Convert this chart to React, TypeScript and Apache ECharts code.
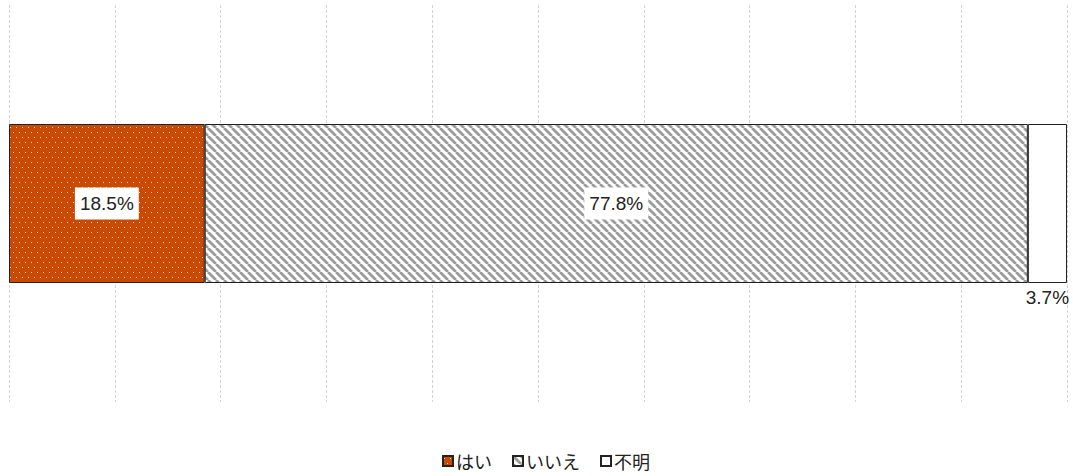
import React, { useEffect, useRef } from "react";
import * as echarts from "echarts";

const categories = ["回答"];
const seriesNames = ["はい", "いいえ", "不明"];
const yesValues = [18.5];
const noValues = [77.8];
const unknownValues = [3.7];
const axisTicks = [0, 10, 20, 30, 40, 50, 60, 70, 80, 90, 100];

function dotPattern(): string {
  const c = document.createElement("canvas");
  c.width = 6;
  c.height = 10;
  const ctx = c.getContext("2d")!;
  ctx.fillStyle = "#C84A04";
  ctx.fillRect(0, 0, 6, 10);
  ctx.fillStyle = "rgba(255,230,210,0.95)";
  ctx.fillRect(1, 2, 1, 1);
  ctx.fillRect(4, 7, 1, 1);
  return c.toDataURL();
}

function hatchPattern(): string {
  const s = 8;
  const c = document.createElement("canvas");
  c.width = s;
  c.height = s;
  const ctx = c.getContext("2d")!;
  ctx.fillStyle = "#ffffff";
  ctx.fillRect(0, 0, s, s);
  ctx.strokeStyle = "#9c9c9c";
  ctx.lineWidth = 2.8;
  for (const o of [-s, 0, s]) {
    ctx.beginPath();
    ctx.moveTo(o, 0);
    ctx.lineTo(o + s, s);
    ctx.stroke();
  }
  return c.toDataURL();
}

export default function App() {
  const ref = useRef<HTMLDivElement>(null);
  useEffect(() => {
    if (!ref.current) return;
    const chart = echarts.init(ref.current, undefined, { renderer: "svg" });
    const dots = { image: dotPattern(), repeat: "repeat" } as any;
    const hatch = { image: hatchPattern(), repeat: "repeat" } as any;
    const labelBase = {
      show: true,
      fontFamily: "Liberation Sans, Arial, sans-serif",
      fontSize: 19,
      color: "#222",
      formatter: (p: any) => p.value.toFixed(1) + "%",
    };
    const boxedLabel = {
      ...labelBase,
      position: "inside",
      backgroundColor: "#fff",
      padding: [7, 5, 6, 5],
    };
    const border = { borderColor: "#222", borderWidth: 1 };
    chart.setOption({
      animation: false,
      grid: { left: 9, right: 6, top: 5, bottom: 74 },
      legend: {
        bottom: 6,
        left: 442,
        data: seriesNames,
        icon: "rect",
        itemWidth: 10,
        itemHeight: 10,
        itemGap: 20,
        padding: 0,
        textStyle: {
          fontFamily: "Noto Sans CJK JP",
          fontSize: 18,
          color: "#222",
          padding: [0, 0, 0, -2],
        },
      },
      xAxis: {
        type: "value",
        min: axisTicks[0],
        max: axisTicks[axisTicks.length - 1],
        interval: axisTicks[1] - axisTicks[0],
        axisLabel: { show: false },
        axisLine: { show: false },
        axisTick: { show: false },
        splitLine: {
          show: true,
          lineStyle: { color: "#d2d2d2", type: [3, 2], width: 1 },
        },
      },
      yAxis: {
        type: "category",
        data: categories,
        show: false,
      },
      series: [
        {
          name: seriesNames[0],
          type: "bar",
          stack: "total",
          barWidth: 159,
          data: yesValues,
          itemStyle: { color: dots, ...border },
          label: boxedLabel,
        },
        {
          name: seriesNames[1],
          type: "bar",
          stack: "total",
          barWidth: 159,
          data: noValues,
          itemStyle: { color: hatch, ...border },
          label: boxedLabel,
        },
        {
          name: seriesNames[2],
          type: "bar",
          stack: "total",
          barWidth: 159,
          data: unknownValues,
          itemStyle: { color: "#ffffff", ...border },
          label: { ...labelBase, position: "bottom", distance: 5 },
        },
      ],
    });
    return () => chart.dispose();
  }, []);
  return (
    <div
      ref={ref}
      style={{ position: "absolute", left: 0, top: 0, width: 1073, height: 476 }}
    />
  );
}
